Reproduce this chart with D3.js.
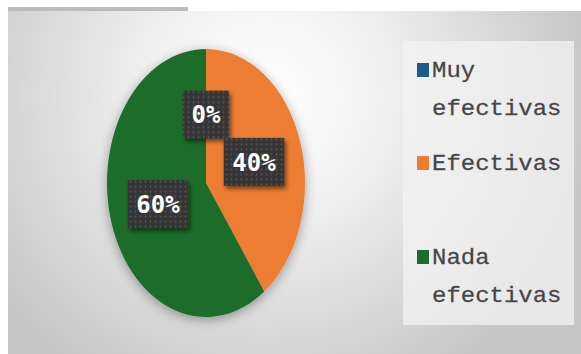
<!DOCTYPE html>
<html>
<head>
<meta charset="utf-8">
<script src="https://cdn.jsdelivr.net/npm/d3@7/dist/d3.min.js"></script>
<style>
  html, body { margin: 0; padding: 0; background: #ffffff; }
  svg { display: block; }
</style>
</head>
<body>
<svg id="chart" width="581" height="354"></svg>
<script>
// Survey answers: how effective the measures are
const categories = ["Muy efectivas", "Efectivas", "Nada efectivas"];
const legendLines = [["Muy", "efectivas"], ["Efectivas"], ["Nada", "efectivas"]];
const values = [0, 40, 60];
const labels = ["0%", "40%", "60%"];
const colors = ["#1f5c8a", "#ed7d31", "#1c6d2a"];

const svg = d3.select("#chart");
const defs = svg.append("defs");

// Soft radial backdrop
const bg = defs.append("radialGradient").attr("id", "bg")
  .attr("gradientUnits", "userSpaceOnUse")
  .attr("cx", 265).attr("cy", 95).attr("r", 330);
bg.append("stop").attr("offset", "0").attr("stop-color", "#ffffff");
bg.append("stop").attr("offset", "0.35").attr("stop-color", "#f1f1f1");
bg.append("stop").attr("offset", "1").attr("stop-color", "#c6c6c6");

const pieShadow = defs.append("filter").attr("id", "pieShadow")
  .attr("x", "-30%").attr("y", "-30%").attr("width", "160%").attr("height", "160%");
pieShadow.append("feGaussianBlur").attr("in", "SourceAlpha").attr("stdDeviation", 6).attr("result", "b");
pieShadow.append("feOffset").attr("in", "b").attr("dx", 0).attr("dy", 3).attr("result", "o");
pieShadow.append("feComponentTransfer").attr("in", "o").attr("result", "s")
  .append("feFuncA").attr("type", "linear").attr("slope", 0.35);
const pm = pieShadow.append("feMerge");
pm.append("feMergeNode").attr("in", "s");
pm.append("feMergeNode").attr("in", "SourceGraphic");

const boxShadow = defs.append("filter").attr("id", "boxShadow")
  .attr("x", "-30%").attr("y", "-30%").attr("width", "160%").attr("height", "160%");
boxShadow.append("feGaussianBlur").attr("in", "SourceAlpha").attr("stdDeviation", 2).attr("result", "b");
boxShadow.append("feOffset").attr("in", "b").attr("dx", 2).attr("dy", 3).attr("result", "o");
boxShadow.append("feComponentTransfer").attr("in", "o").attr("result", "s")
  .append("feFuncA").attr("type", "linear").attr("slope", 0.5);
const bm = boxShadow.append("feMerge");
bm.append("feMergeNode").attr("in", "s");
bm.append("feMergeNode").attr("in", "SourceGraphic");

// Dotted dark fill for the value labels
const dots = defs.append("pattern").attr("id", "dots")
  .attr("patternUnits", "userSpaceOnUse").attr("width", 5).attr("height", 5);
dots.append("rect").attr("width", 5).attr("height", 5).attr("fill", "#363636");
dots.append("circle").attr("cx", 2.5).attr("cy", 2.5).attr("r", 0.9).attr("fill", "#5a5a5a");

// Panel
svg.append("rect").attr("x", 8).attr("y", 7).attr("width", 180).attr("height", 4).attr("fill", "#bcbcbc");
svg.append("rect").attr("x", 8).attr("y", 11).attr("width", 573).attr("height", 343).attr("fill", "url(#bg)");

// Legend panel
svg.append("rect").attr("x", 403).attr("y", 41).attr("width", 171).attr("height", 284)
  .attr("fill", "#f3f3f3").attr("opacity", 0.75);

// Pie, drawn on a unit circle and stretched into an ellipse
const cx = 206, cy = 183, rx = 99, ry = 134;
const pie = d3.pie().sort(null).value(d => d)(values);
const arc = d3.arc().innerRadius(0).outerRadius(1);
const labelArc = d3.arc().innerRadius(1.02).outerRadius(0);

const pieG = svg.append("g").attr("filter", "url(#pieShadow)");
pieG.append("g")
  .attr("transform", `translate(${cx},${cy}) scale(${rx},${ry})`)
  .selectAll("path").data(pie).join("path")
  .attr("d", arc)
  .attr("fill", (d, i) => colors[i]);

// Value labels
const labelG = svg.append("g");
pie.forEach((d, i) => {
  const [ux, uy] = labelArc.centroid(d);
  const x = cx + ux * rx, y = cy + uy * ry;
  const g = labelG.append("g").attr("transform", `translate(${x},${y})`);
  const charW = 14.2;
  const w = labels[i].length * charW + 18;
  const h = 48;
  g.append("rect").attr("x", -w / 2).attr("y", -h / 2).attr("width", w).attr("height", h)
    .attr("fill", "url(#dots)").attr("filter", "url(#boxShadow)");
  g.append("text").text(labels[i])
    .attr("text-anchor", "middle").attr("dy", "0.36em")
    .attr("font-family", "'DejaVu Sans Mono', monospace")
    .attr("font-weight", "bold").attr("font-size", 24)
    .attr("fill", "#ffffff");
});

// Legend
const baselines = [[77, 115], [170], [264, 302]];
const legend = svg.append("g");
categories.forEach((c, i) => {
  const b = baselines[i];
  legend.append("rect").attr("x", 417).attr("y", b[0] - 14).attr("width", 12).attr("height", 14)
    .attr("fill", colors[i]);
  legendLines[i].forEach((line, j) => {
    legend.append("text").text(line)
      .attr("transform", `translate(432,${b[j]}) scale(1.09,1)`)
      .attr("font-family", "'Liberation Mono', 'Courier New', monospace")
      .attr("font-size", 22)
      .attr("fill", "#464646")
      .attr("stroke", "#464646").attr("stroke-width", 0.25);
  });
});
</script>
</body>
</html>
